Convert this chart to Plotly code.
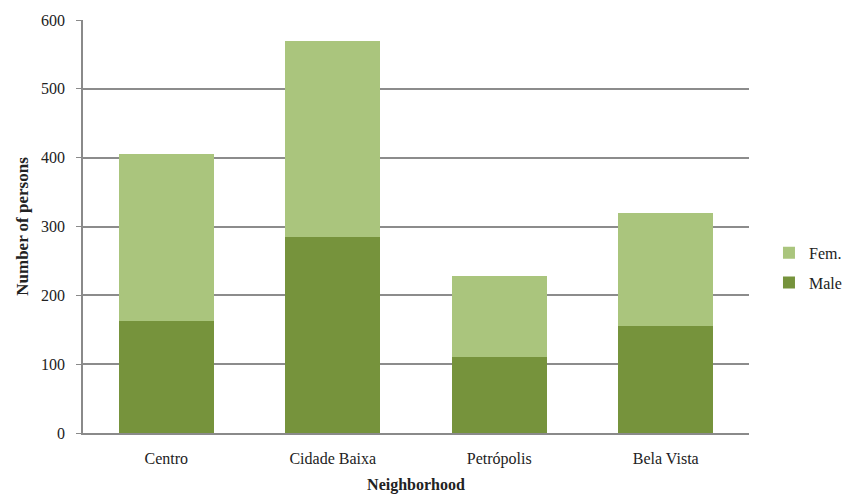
import plotly.graph_objects as go

categories = ["Centro", "Cidade Baixa", "Petrópolis", "Bela Vista"]
male = [162, 285, 110, 155]
fem = [243, 285, 118, 165]
y_ticks = [0, 100, 200, 300, 400, 500, 600]

font_family = "Liberation Serif, Times New Roman, serif"

fig = go.Figure()
fig.add_trace(go.Bar(x=categories, y=male, name="Male", legendgroup="m", legendrank=2,
                     marker=dict(color="#76933C", line=dict(width=0))))
fig.add_trace(go.Bar(x=categories, y=fem, name="Fem.", legendgroup="f", legendrank=1,
                     marker=dict(color="#AAC57D", line=dict(width=0))))

fig.update_layout(
    barmode="stack",
    bargap=0.43,
    width=844, height=495,
    margin=dict(l=83, r=95, t=20, b=62, autoexpand=False),
    paper_bgcolor="white", plot_bgcolor="white",
    font=dict(family=font_family, size=15, color="#222"),
    legend=dict(x=1.03, y=0.40, yanchor="middle", xanchor="left",
                traceorder="grouped", font=dict(size=16, family=font_family),
                itemwidth=30, tracegroupgap=6),
    xaxis=dict(showline=True, linecolor="#8a8a8a", linewidth=1.5, ticks="",
               tickfont=dict(size=16), ticklabelstandoff=10,
               title=dict(text="<b>Neighborhood</b>", font=dict(size=16), standoff=12)),
    yaxis=dict(range=[0, 600], tickvals=y_ticks, showgrid=True, gridcolor="#8c8c8c", gridwidth=1.5,
               showline=True, linecolor="#8a8a8a", linewidth=1.5, ticks="outside", ticklen=5,
               tickcolor="#8a8a8a", tickfont=dict(size=16), zeroline=False, ticklabelstandoff=8,
               title=dict(text="<b>Number of persons</b>", font=dict(size=17), standoff=8)),
)
fig.write_html("out.html")
